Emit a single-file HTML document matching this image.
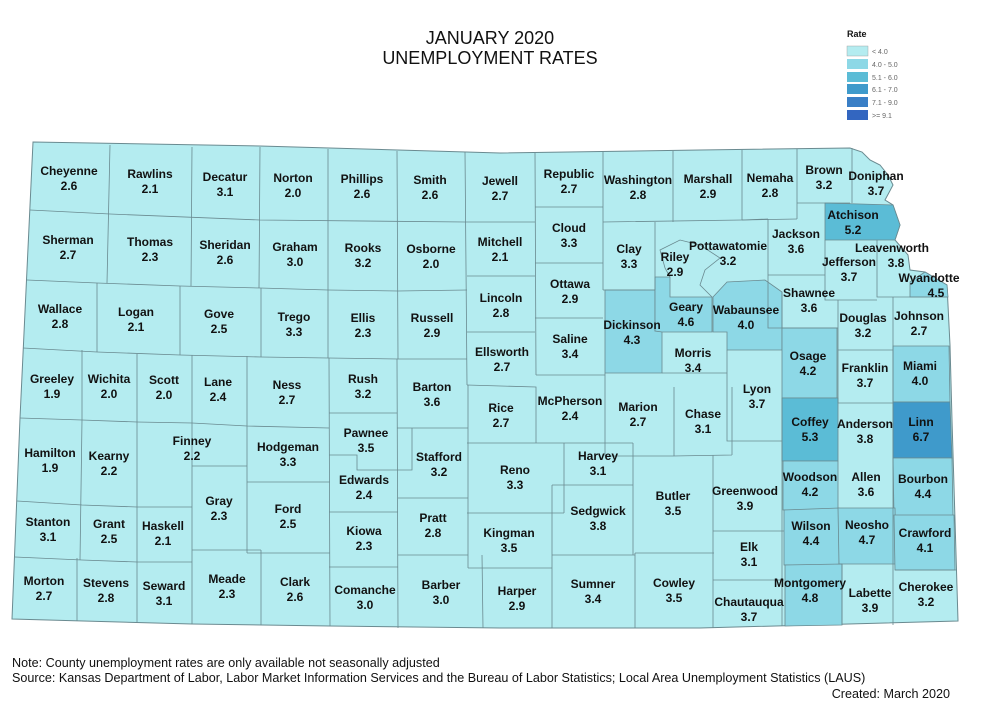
<!DOCTYPE html>
<html><head><meta charset="utf-8"><style>
body{margin:0;background:#fff;}
svg{display:block;font-family:"Liberation Sans",Arial,sans-serif;}
.l text{font-size:12px;font-weight:bold;fill:#111;text-anchor:middle;}
</style></head><body>
<svg width="984" height="721" viewBox="0 0 984 721" xmlns="http://www.w3.org/2000/svg">
<text x="490" y="44" font-size="18" text-anchor="middle" fill="#111">JANUARY 2020</text>
<text x="490" y="64" font-size="18" text-anchor="middle" fill="#111">UNEMPLOYMENT RATES</text>
<text x="847" y="37" font-size="9" font-weight="bold" fill="#111">Rate</text>
<g font-size="7" fill="#666">
<rect x="847" y="46" width="21" height="10" fill="#b4ecf0" stroke="#999" stroke-width="0.4"/><text x="872" y="54">&lt; 4.0</text>
<rect x="847" y="59" width="21" height="10" fill="#8dd8e6"/><text x="872" y="67">4.0 - 5.0</text>
<rect x="847" y="72" width="21" height="10" fill="#5bbcd6"/><text x="872" y="80">5.1 - 6.0</text>
<rect x="847" y="84" width="21" height="10" fill="#3f9acb"/><text x="872" y="92">6.1 - 7.0</text>
<rect x="847" y="97" width="21" height="10" fill="#3a7fc6"/><text x="872" y="105">7.1 - 9.0</text>
<rect x="847" y="110" width="21" height="10" fill="#3366c0"/><text x="872" y="118">&gt;= 9.1</text>
</g>
<polygon fill="#b4ecf0" stroke="#6a8a90" stroke-width="1" points="33,142 260,146 500,153 700,150 850,148 862,152 870,160 880,165 888,175 893,185 885,200 893,205 900,225 895,240 908,255 910,270 925,272 947,285 950,345 952,420 955,520 958,621 700,628 500,628 330,626 192,624 12,619 20,418"/>
<g stroke="#6a8a90" stroke-width="0.8">
<polygon fill="#5bbcd6" points="825,203 893,205 900,225 895,240 825,240"/>
<polygon fill="#8dd8e6" points="605,290 655,290 655,331 662,331 662,373 605,373"/>
<polygon fill="#8dd8e6" points="655,277 670,277 670,297 712,297 712,332 662,332 655,331"/>
<polygon fill="#8dd8e6" points="713,297 727,282 765,280 782,292 782,350 727,350 727,332 713,332"/>
<polygon fill="#8dd8e6" points="782,328 837,328 837,398 782,398"/>
<polygon fill="#5bbcd6" points="782,398 838,398 838,461 782,461"/>
<polygon fill="#8dd8e6" points="893,346 949,346 950,402 893,402"/>
<polygon fill="#3f9acb" points="893,402 950,402 952,458 893,458"/>
<polygon fill="#8dd8e6" points="783,461 838,461 838,510 783,510"/>
<polygon fill="#8dd8e6" points="893,458 952,458 953,516 894,516"/>
<polygon fill="#8dd8e6" points="784,510 839,508 839,565 784,565"/>
<polygon fill="#8dd8e6" points="838,508 895,508 896,564 839,564"/>
<polygon fill="#8dd8e6" points="894,515 954,515 955,570 895,570"/>
<polygon fill="#8dd8e6" points="785,565 842,564 842,625 785,626"/>
<polygon fill="#8dd8e6" points="910,282 925,272 947,285 948,297 910,297"/>
</g>
<g fill="none" stroke="#6a8a90" stroke-width="0.8">
<path d="M30,210 L110,214 L260,220 L465,222 L535,222 M535,207 L603,207 M603,222 L742,220 L797,219 M797,203 L850,203"/>
<path d="M110,145 L107,283 M192,147 L191,286 M260,147 L259,288 M328,149 L328,358 M397,151 L398,359 M465,152 L467,385 M535,153 L536,375 M603,152 L603,290 M673,151 L673,222 M742,150 L742,220 M797,149 L797,219 M852,148 L852,203"/>
<path d="M27,280 L97,283 L180,286 L260,288 L328,290 L398,291 L467,290 M467,276 L535,276 M535,263 L603,263 M535,318 L603,318 M467,332 L535,332"/>
<path d="M97,283 L97,352 M180,286 L180,355 M261,288 L261,357"/>
<path d="M23,348 L97,352 L180,355 L261,357 L328,358 L398,359 L467,359"/>
<path d="M82,350 L82,420 M137,354 L137,562 M192,355 L192,624 M247,356 L247,553 M329,358 L330,626 M397,359 L398,628 M468,385 L468,568"/>
<path d="M20,418 L82,420 L137,422 L192,423 L247,426 L329,428 M329,413 L397,413 M397,428 L468,428"/>
<path d="M17,501 L82,505 L137,507 L192,507 M192,466 L247,466 M247,482 L330,482 M329,455 L357,455 L357,470 L412,470 L412,428 M329,512 L398,512 M398,498 L468,498"/>
<path d="M82,420 L80,560 M15,557 L82,560 L137,562 L192,562 M192,550 L261,550 M247,553 L330,553 M329,567 L398,567 M398,555 L468,555"/>
<path d="M77,558 L77,621 M137,562 L137,622 M261,550 L261,625 M482,555 L483,628"/>
<path d="M467,385 L536,387 L536,443 M536,375 L605,375 M467,443 L564,443 L633,443 M564,443 L564,513 M467,513 L564,513 M552,485 L633,485 M552,485 L552,628 M468,568 L552,568 M552,555 L635,555 M633,443 L633,555 M635,553 L714,553 M635,553 L635,628"/>
<path d="M605,373 L605,456 M605,456 L673,456 L732,455 M674,387 L674,456 M662,373 L727,373 L727,387 M732,387 L732,455 M713,455 L713,628 M727,350 L727,441 L782,441 M713,531 L784,531 M713,580 L784,580 M782,398 L782,626"/>
<path d="M603,290 L655,290 M655,222 L655,290 M670,277 L665,268 L660,250 L680,240 L700,245 L720,258 L705,270 L700,285 L712,297 M742,220 L768,219 M768,219 L768,275 L825,275 M825,240 L825,300 L877,300 M877,240 L877,297 L947,297 M782,292 L782,328 L838,328 L838,403 M838,350 L893,350 M838,300 L838,350 M893,297 L893,625 M838,403 L893,403 M842,564 L842,625 M895,570 L957,570 M768,275 L768,328 L782,328"/>
</g>
<g class="l">
<text x="69" y="175">Cheyenne</text><text x="69" y="190">2.6</text>
<text x="150" y="178">Rawlins</text><text x="150" y="193">2.1</text>
<text x="225" y="181">Decatur</text><text x="225" y="196">3.1</text>
<text x="293" y="182">Norton</text><text x="293" y="197">2.0</text>
<text x="362" y="183">Phillips</text><text x="362" y="198">2.6</text>
<text x="430" y="184">Smith</text><text x="430" y="199">2.6</text>
<text x="500" y="185">Jewell</text><text x="500" y="200">2.7</text>
<text x="569" y="178">Republic</text><text x="569" y="193">2.7</text>
<text x="638" y="184">Washington</text><text x="638" y="199">2.8</text>
<text x="708" y="183">Marshall</text><text x="708" y="198">2.9</text>
<text x="770" y="182">Nemaha</text><text x="770" y="197">2.8</text>
<text x="824" y="174">Brown</text><text x="824" y="189">3.2</text>
<text x="876" y="180">Doniphan</text><text x="876" y="195">3.7</text>
<text x="68" y="244">Sherman</text><text x="68" y="259">2.7</text>
<text x="150" y="246">Thomas</text><text x="150" y="261">2.3</text>
<text x="225" y="249">Sheridan</text><text x="225" y="264">2.6</text>
<text x="295" y="251">Graham</text><text x="295" y="266">3.0</text>
<text x="363" y="252">Rooks</text><text x="363" y="267">3.2</text>
<text x="431" y="253">Osborne</text><text x="431" y="268">2.0</text>
<text x="500" y="246">Mitchell</text><text x="500" y="261">2.1</text>
<text x="569" y="232">Cloud</text><text x="569" y="247">3.3</text>
<text x="629" y="253">Clay</text><text x="629" y="268">3.3</text>
<text x="675" y="261">Riley</text><text x="675" y="276">2.9</text>
<text x="728" y="250">Pottawatomie</text><text x="728" y="265">3.2</text>
<text x="796" y="238">Jackson</text><text x="796" y="253">3.6</text>
<text x="853" y="219">Atchison</text><text x="853" y="234">5.2</text>
<text x="892" y="252">Leavenworth</text><text x="896" y="267">3.8</text>
<text x="849" y="266">Jefferson</text><text x="849" y="281">3.7</text>
<text x="929" y="282">Wyandotte</text><text x="936" y="297">4.5</text>
<text x="60" y="313">Wallace</text><text x="60" y="328">2.8</text>
<text x="136" y="316">Logan</text><text x="136" y="331">2.1</text>
<text x="219" y="318">Gove</text><text x="219" y="333">2.5</text>
<text x="294" y="321">Trego</text><text x="294" y="336">3.3</text>
<text x="363" y="322">Ellis</text><text x="363" y="337">2.3</text>
<text x="432" y="322">Russell</text><text x="432" y="337">2.9</text>
<text x="501" y="302">Lincoln</text><text x="501" y="317">2.8</text>
<text x="570" y="288">Ottawa</text><text x="570" y="303">2.9</text>
<text x="570" y="343">Saline</text><text x="570" y="358">3.4</text>
<text x="632" y="329">Dickinson</text><text x="632" y="344">4.3</text>
<text x="686" y="311">Geary</text><text x="686" y="326">4.6</text>
<text x="746" y="314">Wabaunsee</text><text x="746" y="329">4.0</text>
<text x="809" y="297">Shawnee</text><text x="809" y="312">3.6</text>
<text x="863" y="322">Douglas</text><text x="863" y="337">3.2</text>
<text x="919" y="320">Johnson</text><text x="919" y="335">2.7</text>
<text x="502" y="356">Ellsworth</text><text x="502" y="371">2.7</text>
<text x="693" y="357">Morris</text><text x="693" y="372">3.4</text>
<text x="808" y="360">Osage</text><text x="808" y="375">4.2</text>
<text x="865" y="372">Franklin</text><text x="865" y="387">3.7</text>
<text x="920" y="370">Miami</text><text x="920" y="385">4.0</text>
<text x="52" y="383">Greeley</text><text x="52" y="398">1.9</text>
<text x="109" y="383">Wichita</text><text x="109" y="398">2.0</text>
<text x="164" y="384">Scott</text><text x="164" y="399">2.0</text>
<text x="218" y="386">Lane</text><text x="218" y="401">2.4</text>
<text x="287" y="389">Ness</text><text x="287" y="404">2.7</text>
<text x="363" y="383">Rush</text><text x="363" y="398">3.2</text>
<text x="432" y="391">Barton</text><text x="432" y="406">3.6</text>
<text x="501" y="412">Rice</text><text x="501" y="427">2.7</text>
<text x="570" y="405">McPherson</text><text x="570" y="420">2.4</text>
<text x="638" y="411">Marion</text><text x="638" y="426">2.7</text>
<text x="703" y="418">Chase</text><text x="703" y="433">3.1</text>
<text x="757" y="393">Lyon</text><text x="757" y="408">3.7</text>
<text x="810" y="426">Coffey</text><text x="810" y="441">5.3</text>
<text x="865" y="428">Anderson</text><text x="865" y="443">3.8</text>
<text x="921" y="426">Linn</text><text x="921" y="441">6.7</text>
<text x="366" y="437">Pawnee</text><text x="366" y="452">3.5</text>
<text x="50" y="457">Hamilton</text><text x="50" y="472">1.9</text>
<text x="109" y="460">Kearny</text><text x="109" y="475">2.2</text>
<text x="192" y="445">Finney</text><text x="192" y="460">2.2</text>
<text x="288" y="451">Hodgeman</text><text x="288" y="466">3.3</text>
<text x="439" y="461">Stafford</text><text x="439" y="476">3.2</text>
<text x="515" y="474">Reno</text><text x="515" y="489">3.3</text>
<text x="598" y="460">Harvey</text><text x="598" y="475">3.1</text>
<text x="364" y="484">Edwards</text><text x="364" y="499">2.4</text>
<text x="810" y="481">Woodson</text><text x="810" y="496">4.2</text>
<text x="866" y="481">Allen</text><text x="866" y="496">3.6</text>
<text x="923" y="483">Bourbon</text><text x="923" y="498">4.4</text>
<text x="745" y="495">Greenwood</text><text x="745" y="510">3.9</text>
<text x="219" y="505">Gray</text><text x="219" y="520">2.3</text>
<text x="288" y="513">Ford</text><text x="288" y="528">2.5</text>
<text x="433" y="522">Pratt</text><text x="433" y="537">2.8</text>
<text x="364" y="535">Kiowa</text><text x="364" y="550">2.3</text>
<text x="673" y="500">Butler</text><text x="673" y="515">3.5</text>
<text x="598" y="515">Sedgwick</text><text x="598" y="530">3.8</text>
<text x="48" y="526">Stanton</text><text x="48" y="541">3.1</text>
<text x="109" y="528">Grant</text><text x="109" y="543">2.5</text>
<text x="163" y="530">Haskell</text><text x="163" y="545">2.1</text>
<text x="509" y="537">Kingman</text><text x="509" y="552">3.5</text>
<text x="811" y="530">Wilson</text><text x="811" y="545">4.4</text>
<text x="867" y="529">Neosho</text><text x="867" y="544">4.7</text>
<text x="925" y="537">Crawford</text><text x="925" y="552">4.1</text>
<text x="749" y="551">Elk</text><text x="749" y="566">3.1</text>
<text x="44" y="585">Morton</text><text x="44" y="600">2.7</text>
<text x="106" y="587">Stevens</text><text x="106" y="602">2.8</text>
<text x="164" y="590">Seward</text><text x="164" y="605">3.1</text>
<text x="227" y="583">Meade</text><text x="227" y="598">2.3</text>
<text x="295" y="586">Clark</text><text x="295" y="601">2.6</text>
<text x="365" y="594">Comanche</text><text x="365" y="609">3.0</text>
<text x="441" y="589">Barber</text><text x="441" y="604">3.0</text>
<text x="517" y="595">Harper</text><text x="517" y="610">2.9</text>
<text x="593" y="588">Sumner</text><text x="593" y="603">3.4</text>
<text x="674" y="587">Cowley</text><text x="674" y="602">3.5</text>
<text x="810" y="587">Montgomery</text><text x="810" y="602">4.8</text>
<text x="870" y="597">Labette</text><text x="870" y="612">3.9</text>
<text x="926" y="591">Cherokee</text><text x="926" y="606">3.2</text>
<text x="749" y="606">Chautauqua</text><text x="749" y="621">3.7</text>
</g>
<g font-size="12.6" fill="#111">
<text x="12" y="667">Note: County unemployment rates are only available not seasonally adjusted</text>
<text x="12" y="682">Source: Kansas Department of Labor, Labor Market Information Services and the Bureau of Labor Statistics; Local Area Unemployment Statistics (LAUS)</text>
<text x="950" y="698" text-anchor="end">Created:  March 2020</text>
</g>
</svg>
</body></html>
